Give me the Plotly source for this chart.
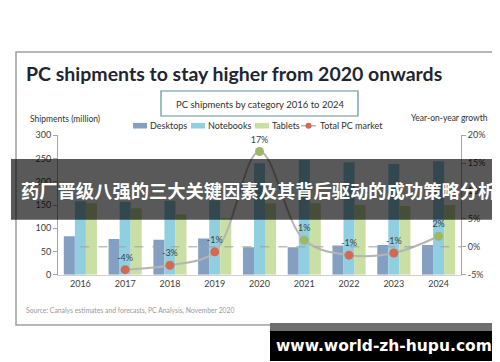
import plotly.graph_objects as go

W, H = 500, 362


def px(x):
    return x / W


def py(y):
    return 1 - y / H


# ---------------- data ----------------
years = ["2016", "2017", "2018", "2019", "2020", "2021", "2022", "2023", "2024"]
desktops = [83, 77, 75, 78, 59, 59, 63, 64, 64]
notebooks = [158, 157, 159, 160, 240, 247, 242, 238, 244]
tablets = [154, 143, 130, 122, 154, 154, 150, 148, 150]
total_growth = [None, -4.1, -3.3, -0.9, 17.1, 1.2, -1.5, -1.1, 1.9]
growth_labels = ["", "-4%", "-3%", "-1%", "17%", "1%", "-1%", "-1%", "2%"]
series_names = ["Desktops", "Notebooks", "Tablets", "Total PC market"]
left_ticks = [0, 50, 100, 150, 200, 250, 300]
right_ticks = [-5, 0, 5, 10, 15, 20]
right_tick_labels = ["-5%", "0%", "5%", "10%", "15%", "20%"]

title_text = "PC shipments to stay higher from 2020 onwards"
subtitle_text = "PC shipments by category 2016 to 2024"
left_axis_title = "Shipments (million)"
right_axis_title = "Year-on-year growth"
source_text = "Source: Canalys estimates and forecasts, PC Analysis, November 2020"
overlay_text = "药厂晋级八强的三大关键因素及其背后驱动的成功策略分析"
watermark_text = "www.world-zh-hupu.com"

# ---------------- styles ----------------
C_DESK = "#859fc3"
C_NOTE = "#8fcfe0"
C_TAB = "#c9dfa3"
C_LINE = "#b5b5b5"
C_NEG = "#d4694f"
C_POS = "#9db865"
AX = "#a6a6a6"
TXT = "#404040"
FONT = "Lato"

marker_colors = [C_NEG if (v is not None and v < 0) else C_POS for v in total_growth]

fig = go.Figure()
fig.add_bar(x=years, y=desktops, name=series_names[0], marker_color=C_DESK, yaxis="y")
fig.add_bar(x=years, y=notebooks, name=series_names[1], marker_color=C_NOTE, yaxis="y")
fig.add_bar(x=years, y=tablets, name=series_names[2], marker_color=C_TAB, yaxis="y")
fig.add_scatter(
    x=years, y=total_growth, name=series_names[3], yaxis="y2",
    mode="lines+markers+text", text=growth_labels, textposition="top center",
    textfont=dict(size=9, color=TXT, family=FONT),
    line=dict(color=C_LINE, width=2, shape="spline", smoothing=1.0),
    marker=dict(size=9, color=marker_colors), cliponaxis=False,
)

y_bot, y_top = 266.7, 127.3
fig.update_layout(
    template="none",
    width=W, height=H, autosize=False,
    margin=dict(l=0, r=0, t=0, b=0),
    paper_bgcolor="white", plot_bgcolor="rgba(0,0,0,0)",
    showlegend=False,
    barmode="group", bargap=0.26, bargroupgap=0,
    font=dict(family=FONT, size=9, color=TXT),
    xaxis=dict(
        domain=[px(50), px(453)], type="category", range=[-0.5, 8.5],
        showgrid=False, zeroline=False, showline=True, linecolor="#d0d0d0",
        ticks="", tickfont=dict(size=9, color=TXT), automargin=False,
        ticklabelstandoff=0,
    ),
    yaxis=dict(
        domain=[py(y_bot), py(y_top)], range=[0, 300], tickvals=left_ticks,
        showgrid=False, zeroline=False, showline=True, linecolor=AX,
        ticks="outside", ticklen=4, tickcolor=AX, tickfont=dict(size=9, color=TXT),
        automargin=False,
    ),
    yaxis2=dict(
        overlaying="y", side="right", anchor="x", range=[-5, 20],
        tickvals=right_ticks, ticktext=right_tick_labels,
        showgrid=False, zeroline=False, showline=True, linecolor=AX,
        ticks="outside", ticklen=4, tickcolor=AX, tickfont=dict(size=9, color=TXT),
        automargin=False,
    ),
)

shapes = []
annotations = []

# outer frame
shapes.append(dict(type="rect", xref="paper", yref="paper", x0=px(8), x1=px(492),
                   y0=py(317), y1=py(44), line=dict(color="#a0a0a0", width=1.5),
                   fillcolor="rgba(0,0,0,0)", layer="below"))
# zero growth dashed line
shapes.append(dict(type="line", xref="x", yref="y2", x0=0, x1=8.5, y0=0, y1=0,
                   line=dict(color="#a0a0a0", width=1, dash="dash"), layer="above"))
# subtitle box
shapes.append(dict(type="rect", xref="paper", yref="paper", x0=px(153), x1=px(350),
                   y0=py(108), y1=py(83), line=dict(color="#5f8f98", width=1.2),
                   fillcolor="white"))

annotations.append(dict(text="<b>" + title_text + "</b>", xref="paper", yref="paper",
                        x=px(16), y=py(66), xanchor="left", yanchor="middle", showarrow=False,
                        font=dict(size=19.5, color="#1e2632", family=FONT)))
annotations.append(dict(text=subtitle_text, xref="paper", yref="paper",
                        x=px(251.5), y=py(96), xanchor="center", yanchor="middle", showarrow=False,
                        font=dict(size=9.5, color="#303030", family=FONT)))
annotations.append(dict(text=left_axis_title, xref="paper", yref="paper",
                        x=px(20), y=py(110.5), xanchor="left", yanchor="middle", showarrow=False,
                        font=dict(size=8.5, color="#303030", family=FONT)))
annotations.append(dict(text=right_axis_title, xref="paper", yref="paper",
                        x=px(482), y=py(110), xanchor="right", yanchor="middle", showarrow=False,
                        font=dict(size=8.5, color="#303030", family=FONT)))
annotations.append(dict(text=source_text, xref="paper", yref="paper",
                        x=px(16), y=py(302), xanchor="left", yanchor="middle", showarrow=False,
                        font=dict(size=6.8, color="#9a9a9a", family=FONT)))

# custom legend
ly = 117.7
legend_items = [
    (series_names[0], C_DESK, 125, 139),
    (series_names[1], C_NOTE, 183, 197),
    (series_names[2], C_TAB, 247, 261),
]
for name, col, x0, x1 in legend_items:
    shapes.append(dict(type="rect", xref="paper", yref="paper", x0=px(x0), x1=px(x1),
                       y0=py(ly + 2.8), y1=py(ly - 2.8), line=dict(width=0), fillcolor=col))
    annotations.append(dict(text=name, xref="paper", yref="paper", x=px(x1 + 1), y=py(ly),
                            xanchor="left", yanchor="middle", showarrow=False,
                            font=dict(size=9, color="#303030", family=FONT)))
shapes.append(dict(type="line", xref="paper", yref="paper", x0=px(293), x1=px(308),
                   y0=py(ly), y1=py(ly), line=dict(color=C_LINE, width=1.5)))
shapes.append(dict(type="circle", xref="paper", yref="paper", x0=px(297.5), x1=px(303.5),
                   y0=py(ly + 3), y1=py(ly - 3), line=dict(width=0), fillcolor=C_NEG))
annotations.append(dict(text=series_names[3], xref="paper", yref="paper", x=px(310), y=py(ly),
                        xanchor="left", yanchor="middle", showarrow=False,
                        font=dict(size=9, color="#303030", family=FONT)))

# dark overlay banner
shapes.append(dict(type="rect", xref="paper", yref="paper", x0=px(3), x1=px(497),
                   y0=py(211.7), y1=py(151), line=dict(width=0),
                   fillcolor="rgba(0,0,0,0.65)", layer="above"))
annotations.append(dict(text="<b>" + overlay_text + "</b>", xref="paper", yref="paper",
                        x=px(250), y=py(181.5), xanchor="center", yanchor="middle", showarrow=False,
                        font=dict(size=18.3, color="white", family="Noto Sans CJK SC")))

# watermark
shapes.append(dict(type="rect", xref="paper", yref="paper", x0=px(262), x1=px(490),
                   y0=py(323), y1=py(315), line=dict(width=0), fillcolor="#6e6e6e", layer="above"))
shapes.append(dict(type="rect", xref="paper", yref="paper", x0=px(262), x1=px(490),
                   y0=py(353), y1=py(323), line=dict(width=0), fillcolor="black", layer="above"))
annotations.append(dict(text="<b>" + watermark_text + "</b>", xref="paper", yref="paper",
                        x=px(376), y=py(338), xanchor="center", yanchor="middle", showarrow=False,
                        font=dict(size=15.5, color="white", family="DejaVu Sans")))

fig.update_layout(shapes=shapes, annotations=annotations)
fig.write_html("out.html")
